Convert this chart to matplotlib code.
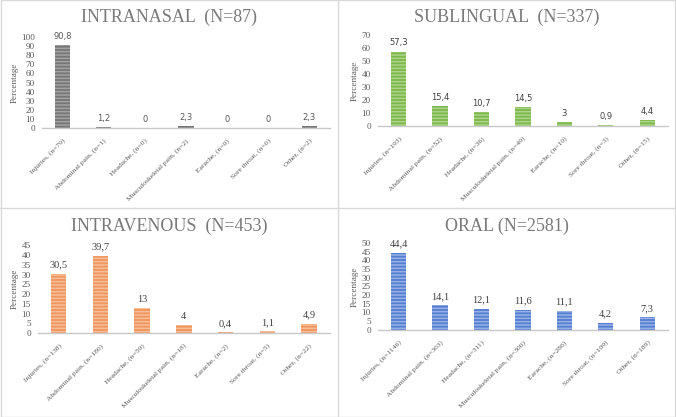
import matplotlib
matplotlib.use('Agg')
import matplotlib.pyplot as plt
from matplotlib.lines import Line2D

plt.rcParams['hatch.linewidth'] = 1.1

categories = ['Injuries', 'Abdominal pain', 'Headache', 'Musculoskeletal pain',
              'Earache', 'Sore throat', 'Other']

intranasal_n = [79, 1, 0, 2, 0, 0, 2]
intranasal_pct = [90.8, 1.2, 0, 2.3, 0, 0, 2.3]

sublingual_n = [193, 52, 36, 49, 10, 3, 15]
sublingual_pct = [57.3, 15.4, 10.7, 14.5, 3, 0.9, 4.4]

intravenous_n = [138, 180, 59, 18, 2, 5, 22]
intravenous_pct = [30.5, 39.7, 13, 4, 0.4, 1.1, 4.9]

oral_n = [1146, 363, 311, 300, 286, 109, 189]
oral_pct = [44.4, 14.1, 12.1, 11.6, 11.1, 4.2, 7.3]

panels = [
    # title, n, pct, ymax, step, rect, face, stripe, label font
    ('INTRANASAL  (N=87)', intranasal_n, intranasal_pct, 100, 10,
     [0.062, 0.693, 0.426, 0.218], '#767676', '#a2a2a2', 'sans'),
    ('SUBLINGUAL  (N=337)', sublingual_n, sublingual_pct, 70, 10,
     [0.559, 0.698, 0.429, 0.218], '#7cb84a', '#acd38a', 'sansbold'),
    ('INTRAVENOUS  (N=453)', intravenous_n, intravenous_pct, 45, 5,
     [0.056, 0.201, 0.432, 0.211], '#f09660', '#f6bd96', 'serif'),
    ('ORAL (N=2581)', oral_n, oral_pct, 50, 5,
     [0.559, 0.209, 0.429, 0.208], '#557ed0', '#97b1e6', 'serif'),
]

title_pos = [(0.25, 0.958), (0.75, 0.958), (0.25, 0.458), (0.75, 0.458)]

fig = plt.figure(figsize=(6.76, 4.17), dpi=100)
fig.patch.set_facecolor('white')

grey = '#595959'
for (title, n, pct, ymax, step, rect, face, stripe, lf), tp in zip(panels, title_pos):
    ax = fig.add_axes(rect)
    x = list(range(len(categories)))
    ax.bar(x, pct, width=0.37, color=face, edgecolor=stripe, linewidth=0,
           hatch='-----', zorder=2)
    ax.set_xlim(-0.5, 6.5)
    ax.set_ylim(0, ymax)
    ax.set_yticks(range(0, ymax + 1, step))
    ax.tick_params(axis='y', length=0, labelsize=6.6, labelcolor=grey, pad=5)
    ax.tick_params(axis='x', length=0, pad=7)
    for lab in ax.get_yticklabels():
        lab.set_fontfamily('Liberation Serif')
    labels = [f'{c}, (n={k})' for c, k in zip(categories, n)]
    ax.set_xticks(x)
    ax.set_xticklabels(labels, rotation=45, ha='right', rotation_mode='anchor',
                       fontsize=5.4, color=grey, fontfamily='Liberation Serif')
    ax.set_ylabel('Percentage', fontsize=6.6, color=grey,
                  fontfamily='Liberation Serif', labelpad=2)
    for s in ['top', 'right', 'left']:
        ax.spines[s].set_visible(False)
    ax.spines['bottom'].set_color('#c8c8c8')
    ax.spines['bottom'].set_linewidth(1.0)
    for xi, v in zip(x, pct):
        txt = f'{v:g}'.replace('.', ',')
        if lf == 'serif':
            kw = dict(fontfamily='Liberation Serif', fontsize=7.5, color='#404040')
        elif lf == 'sansbold':
            kw = dict(fontfamily='DejaVu Sans', fontsize=6, color='#404040')
        else:
            kw = dict(fontfamily='DejaVu Sans', fontsize=6, color=grey)
        ax.annotate(txt, (xi, v), xytext=(0, 3), textcoords='offset points',
                    ha='center', va='bottom', **kw)
    fig.text(tp[0], tp[1], title, ha='center', va='center', fontsize=13,
             color='#7a7a7a', fontfamily='Liberation Serif')

# panel frames
line_kw = dict(color='#d9d9d9', linewidth=1.0, transform=fig.transFigure)
fig.add_artist(Line2D([0.5, 0.5], [0, 1], **line_kw))
fig.add_artist(Line2D([0, 1], [0.501, 0.501], **line_kw))
fig.add_artist(Line2D([0.001, 0.999, 0.999, 0.001, 0.001],
                      [0.001, 0.001, 0.999, 0.999, 0.001], **line_kw))

fig.savefig('out.png', dpi=100)
